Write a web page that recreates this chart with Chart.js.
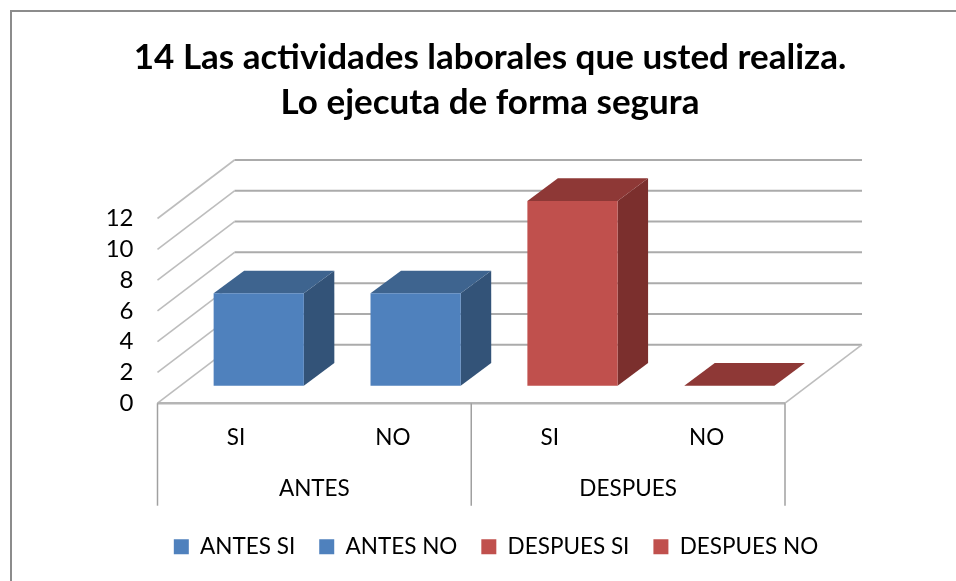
<!DOCTYPE html>
<html>
<head>
<meta charset="utf-8">
<style>html,body{margin:0;padding:0;background:#fff}canvas{display:block}</style>
<script src="https://cdn.jsdelivr.net/npm/chart.js@4"></script>
</head>
<body>
<canvas id="c" width="956" height="581"></canvas>
<script>
const titleLines = ['14 Las actividades laborales que usted realiza.', 'Lo ejecuta de forma segura'];
const categories = ['SI', 'NO', 'SI', 'NO'];
const groups = ['ANTES', 'DESPUES'];
const seriesNames = ['ANTES SI', 'ANTES NO', 'DESPUES SI', 'DESPUES NO'];
const antesSi = [6, null, null, null];
const antesNo = [null, 6, null, null];
const despuesSi = [null, null, 12, null];
const despuesNo = [null, null, null, 0];
const seriesValues = [antesSi, antesNo, despuesSi, despuesNo];
const frontColors = ['#4F81BD', '#4F81BD', '#C0504D', '#C0504D'];
const topColors = ['#3E648F', '#3E648F', '#8E3836', '#8E3836'];
const sideColors = ['#335378', '#335378', '#7B2F2D', '#7B2F2D'];
const FONT = 'Lato';

const wallDx = 77, wallDy = -58.5;     // floor depth
const barShiftX = 22.8, barShiftY = -17.5; // bars stand mid-floor
const barDx = 30.5, barDy = -22.7;     // bar depth

function poly(ctx, pts, fill) {
  ctx.beginPath();
  pts.forEach((p, i) => i ? ctx.lineTo(p[0], p[1]) : ctx.moveTo(p[0], p[1]));
  ctx.closePath();
  ctx.fillStyle = fill;
  ctx.fill();
}
function line(ctx, x0, y0, x1, y1, color, w) {
  ctx.beginPath();
  ctx.moveTo(x0, y0);
  ctx.lineTo(x1, y1);
  ctx.strokeStyle = color;
  ctx.lineWidth = w;
  ctx.stroke();
}

const view3d = {
  id: 'view3d',
  afterLayout(chart) {
    chart.titleBlock.left -= 6;
    chart.titleBlock.right -= 6;
  },
  beforeDraw(chart) {
    const ctx = chart.ctx;
    ctx.save();
    ctx.fillStyle = '#fff';
    ctx.fillRect(0, 0, chart.width, chart.height);
    ctx.beginPath();
    ctx.moveTo(11, chart.height);
    ctx.lineTo(11, 11);
    ctx.lineTo(chart.width, 11);
    ctx.strokeStyle = '#8C8C8C';
    ctx.lineWidth = 2;
    ctx.stroke();
    ctx.restore();
  },
  beforeDatasetsDraw(chart) {
    const ctx = chart.ctx, y = chart.scales.y, x = chart.scales.x;
    const L = x.left, R = x.right;
    ctx.save();
    y.ticks.forEach(t => {
      const py = y.getPixelForValue(t.value);
      line(ctx, L, py, L + wallDx, py + wallDy, '#BDBDBD', 1.6);
      line(ctx, L + wallDx, py + wallDy, R + wallDx, py + wallDy, '#ABABAB', 2);
    });
    const y0 = y.getPixelForValue(0);
    line(ctx, R, y0, R + wallDx, y0 + wallDy, '#BDBDBD', 1.6);
    line(ctx, L, y0, R, y0, '#B5B5B5', 2.4);
    const sepBottom = y0 + 102.5;
    [0, 0.5, 1].forEach(f => {
      const sx = L + (R - L) * f;
      line(ctx, sx, y0, sx, sepBottom, '#A0A0A0', 1.5);
    });
    ctx.translate(barShiftX, barShiftY);
    chart.data.datasets.forEach((ds, di) => {
      const meta = chart.getDatasetMeta(di);
      ds.data.forEach((v, i) => {
        if (v === null) return;
        const el = meta.data[i];
        const l = el.x - el.width / 2, r = el.x + el.width / 2, t = el.y, b = el.base;
        poly(ctx, [[r, t], [r + barDx, t + barDy], [r + barDx, b + barDy], [r, b]], sideColors[di]);
        poly(ctx, [[l, t], [r, t], [r + barDx, t + barDy], [l + barDx, t + barDy]], topColors[di]);
      });
    });
  },
  afterDatasetsDraw(chart) {
    chart.ctx.restore();
  }
};

new Chart(document.getElementById('c'), {
  type: 'bar',
  data: {
    labels: categories,
    datasets: seriesNames.map((name, i) => ({
      label: name,
      data: seriesValues[i],
      backgroundColor: frontColors[i],
      borderWidth: 0,
      categoryPercentage: 1,
      barPercentage: 0.575,
      clip: false
    }))
  },
  options: {
    responsive: false,
    animation: false,
    events: [],
    layout: { padding: { left: 36, right: 0, top: 0, bottom: 13 } },
    plugins: {
      tooltip: { enabled: false },
      title: {
        display: true,
        text: titleLines,
        color: '#000',
        font: { family: FONT, size: 35, weight: 'bold', lineHeight: 45 / 35 },
        padding: { top: 35.5, bottom: 93 }
      },
      legend: {
        position: 'bottom',
        labels: {
          color: '#000',
          font: { family: FONT, size: 22.5 },
          boxWidth: 15,
          boxHeight: 15,
          padding: 24
        }
      }
    },
    scales: {
      x: {
        stacked: true,
        position: 'bottom',
        grid: { display: false, drawTicks: false },
        border: { display: false },
        ticks: { color: '#000', font: { family: FONT, size: 22.5 }, padding: 21, maxRotation: 0, autoSkip: false },
        afterFit(s) { s.height = 50; }
      },
      x2: {
        type: 'category',
        labels: groups,
        position: 'bottom',
        grid: { display: false, drawTicks: false },
        border: { display: false },
        ticks: { color: '#000', font: { family: FONT, size: 22.5 }, padding: 22, maxRotation: 0, autoSkip: false },
        afterFit(s) { s.height = 58.3; }
      },
      y: {
        stacked: true,
        min: 0,
        max: 12,
        grid: { display: false, drawTicks: false },
        border: { display: false },
        ticks: { stepSize: 2, color: '#000', font: { family: FONT, size: 24 }, padding: 24, autoSkip: false },
        afterFit(s) { s.width = 121.5; }
      },
      yRight: {
        position: 'right',
        grid: { display: false, drawTicks: false },
        border: { display: false },
        ticks: { display: false },
        afterFit(s) { s.width = 171; }
      }
    }
  },
  plugins: [view3d]
});
</script>
</body>
</html>
